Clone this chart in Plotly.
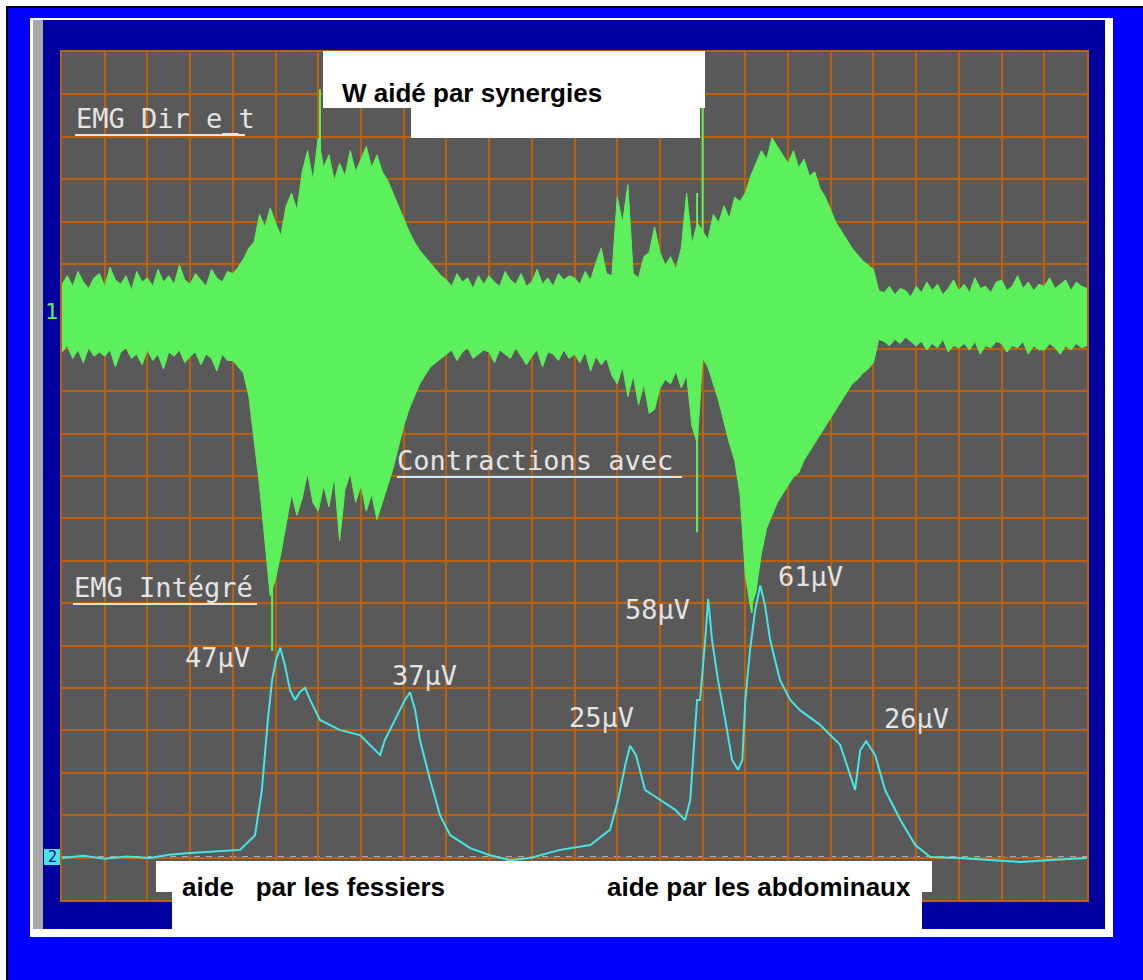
import plotly.graph_objects as go

# ---------------------------------------------------------------
# Time base: 1 division = 1 s, 24 divisions across the screen.
# Channel 1 (raw EMG) is read as an upper / lower envelope,
# sampled every 1/8 division, in divisions from its baseline.
# ---------------------------------------------------------------
emg_hi = [0.75, 0.95, 0.70, 1.05, 0.80, 0.65, 0.90, 1.00,
          0.70, 1.15, 0.85, 0.75, 0.95, 0.60, 1.05, 0.80,
          0.90, 0.70, 1.10, 0.80, 0.95, 0.75, 1.20, 0.85,
          0.75, 1.00, 0.85, 0.70, 1.10, 0.90, 0.80, 1.05,
          1.00, 1.15, 1.35, 1.60, 1.75, 2.40, 2.10, 2.55,
          2.20, 1.90, 2.60, 2.90, 2.50, 3.40, 3.90, 3.20,
          4.20, 3.50, 3.80, 3.20, 3.60, 3.30, 3.90, 3.40,
          3.70, 4.00, 3.50, 3.80, 3.40, 3.20, 2.90, 2.60,
          2.30, 2.00, 1.75, 1.55, 1.40, 1.25, 1.10, 0.95,
          0.85, 0.70, 1.00, 0.80, 0.90, 0.65, 0.95, 0.75,
          0.95, 0.80, 0.70, 1.05, 0.85, 0.75, 1.00, 0.70,
          0.80, 1.10, 0.75, 0.90, 0.70, 1.00, 0.85, 0.95,
          0.90, 0.75, 1.05, 0.85, 1.25, 1.60, 1.00, 0.95,
          2.80, 2.20, 3.10, 1.00, 0.90, 1.40, 1.50, 2.10,
          1.50, 1.20, 1.40, 1.10, 1.60, 2.90, 1.70, 2.20,
          2.00, 1.80, 2.40, 2.20, 2.60, 2.30, 2.80, 2.70,
          2.90, 3.30, 3.60, 3.90, 3.70, 4.20, 4.00, 3.80,
          3.60, 3.90, 3.50, 3.70, 3.30, 3.40, 3.00, 2.80,
          2.50, 2.20, 2.00, 1.80, 1.60, 1.45, 1.30, 1.20,
          1.10, 0.60, 0.55, 0.70, 0.50, 0.65, 0.60, 0.45,
          0.70, 0.55, 0.80, 0.60, 0.75, 0.50, 0.65, 0.85,
          0.60, 0.75, 0.55, 0.90, 0.65, 0.70, 0.55, 0.80,
          0.85, 0.60, 0.70, 0.95, 0.65, 0.80, 0.60, 0.75,
          0.70, 0.90, 0.65, 0.75, 0.85, 0.60, 0.80, 0.70,
          0.65]
emg_lo = [-0.85, -0.70, -1.00, -0.80, -1.10, -0.75, -0.95, -0.85,
          -0.95, -0.80, -1.20, -0.85, -0.75, -1.00, -0.90, -1.15,
          -0.80, -1.05, -0.90, -1.25, -0.85, -0.95, -0.80, -1.10,
          -0.95, -0.85, -1.15, -0.90, -1.00, -1.30, -0.90, -1.05,
          -1.05, -1.20, -1.35, -1.90, -2.90, -4.00, -5.30, -6.60,
          -6.20, -5.60, -4.90, -4.20, -4.70, -4.30, -3.70, -4.40,
          -4.60, -4.00, -4.50, -3.80, -5.30, -4.10, -3.70, -4.40,
          -4.00, -4.60, -4.20, -4.80, -4.40, -4.00, -3.60, -3.10,
          -2.60, -2.20, -1.90, -1.60, -1.40, -1.20, -1.10, -1.00,
          -0.90, -0.80, -1.05, -0.85, -0.75, -1.00, -0.90, -0.80,
          -0.85, -1.10, -0.80, -0.90, -1.00, -0.75, -0.95, -1.15,
          -0.95, -0.80, -1.20, -0.85, -0.90, -1.05, -0.80, -1.00,
          -0.90, -1.10, -0.85, -1.30, -0.95, -1.15, -1.00, -1.40,
          -1.60, -1.20, -1.90, -1.40, -2.10, -1.60, -2.30, -2.20,
          -1.70, -1.50, -1.60, -1.30, -1.70, -1.40, -2.60, -3.00,
          -1.00, -1.20, -1.60, -2.00, -2.50, -3.00, -3.40, -4.20,
          -6.10, -6.90, -6.50, -5.60, -5.00, -4.70, -4.40, -4.20,
          -4.00, -3.80, -3.70, -3.40, -3.20, -3.00, -2.80, -2.60,
          -2.40, -2.20, -2.00, -1.80, -1.60, -1.50, -1.35, -1.25,
          -1.10, -0.55, -0.60, -0.70, -0.55, -0.65, -0.50, -0.60,
          -0.70, -0.60, -0.80, -0.65, -0.75, -0.55, -0.85, -0.70,
          -0.75, -0.65, -0.80, -0.60, -0.90, -0.70, -0.75, -0.60,
          -0.65, -0.85, -0.70, -0.75, -0.60, -0.90, -0.70, -0.80,
          -0.80, -0.65, -0.75, -0.90, -0.70, -0.80, -0.65, -0.75,
          -0.70]
emg_t = [i / 8 for i in range(len(emg_hi))]   # sample instants

# isolated spikes of channel 1 (time, top, bottom)
spike_t = [4.92, 6.04, 14.87, 15.00, 16.15]
spike_hi = [2.0, 5.35, 2.9, 6.15, 3.0]
spike_lo = [-7.9, -3.5, -5.1, -1.0, -7.0]

# ---------------------------------------------------------------
# Channel 2 (integrated EMG), microvolts
# ---------------------------------------------------------------
int_t = [0.00, 0.50, 1.00, 1.50, 2.06, 2.50, 3.00, 3.50, 4.00, 4.17, 4.52, 4.68, 4.82,
         4.92, 5.01, 5.11, 5.22, 5.34, 5.46, 5.57, 5.69, 5.81, 6.04, 6.51, 6.98, 7.21,
         7.45, 7.56, 7.80, 8.03, 8.15, 8.27, 8.38, 8.62, 8.85, 9.09, 9.56, 10.02, 10.49,
         10.96, 11.66, 12.37, 12.83, 13.02, 13.19, 13.30, 13.44, 13.65, 14.01, 14.36,
         14.59, 14.71, 14.87, 14.94, 15.06, 15.13, 15.22, 15.36, 15.53, 15.69, 15.83,
         15.93, 16.00, 16.11, 16.23, 16.35, 16.46, 16.58, 16.81, 17.05, 17.28, 17.75,
         18.22, 18.45, 18.57, 18.69, 18.83, 19.04, 19.27, 19.63, 19.98, 20.33, 21.03,
         21.73, 22.44, 23.14, 24.00]
int_uv = [-0.2, 0.3, -0.4, 0.1, -0.2, 0.5, 0.9, 1.2, 1.4, 1.6, 4.9, 15.1, 30.8,
          39.8, 44.3, 47.0, 43.1, 37.5, 35.3, 37.1, 38.0, 35.3, 30.8, 28.5, 27.4, 25.2,
          22.9, 26.3, 30.8, 35.3, 37.0, 33.0, 26.3, 17.3, 9.4, 4.9, 2.0, 0.4, -0.7,
          -0.2, 1.6, 2.7, 6.1, 12.8, 20.7, 25.0, 22.9, 15.1, 12.8, 10.6,
          8.3, 12.8, 35.3, 35.3, 48.8, 58.0, 48.8, 39.8, 30.8, 21.8, 19.6,
          21.8, 35.3, 46.5, 55.5, 61.0, 56.6, 48.8, 39.8, 35.3, 33.0, 29.7,
          25.2, 18.4, 15.1, 24.0, 26.0, 22.9, 15.1, 8.3, 2.7, 0.0, -0.2,
          -0.7, -1.1, -0.7, -0.2]

peak_labels = ["47\u00b5V", "37\u00b5V", "25\u00b5V", "58\u00b5V", "61\u00b5V", "26\u00b5V"]

# ---------------------------------------------------------------
# Screen geometry (pixels of the 1143 x 980 page)
# ---------------------------------------------------------------
W, H = 1143, 980
L, R, T, B = 62, 1087, 52, 900          # plot area edges
PW, PH = R - L, B - T
DIV_PX = PH / 20                         # 20 vertical divisions
CH1_BASE = 316                           # pixel row of channel-1 baseline
CH2_BASE = 857                           # pixel row of channel-2 baseline
UV_PX = 4.45                             # pixels per microvolt on channel 2


def X(px):
    return (px - L) / PW


def Y(py):
    return (B - py) / PH


GREEN = "#5cf05c"
CYAN = "#45e6e6"
GRID = "#bc600c"
SCREEN = "#595959"
NAVY = "#0000a0"
BLUE = "#0000ff"
LABEL = "#e4e4e4"

fig = go.Figure()

# raw EMG band
fig.add_trace(go.Scatter(x=emg_t, y=emg_lo, yaxis="y", mode="lines",
                         line=dict(color=GREEN, width=1), hoverinfo="skip", showlegend=False))
fig.add_trace(go.Scatter(x=emg_t, y=emg_hi, yaxis="y", mode="lines", fill="tonexty",
                         fillcolor=GREEN, line=dict(color=GREEN, width=1),
                         hoverinfo="skip", showlegend=False))
sx, sy = [], []
for t, hi, lo in zip(spike_t, spike_hi, spike_lo):
    sx += [t, t, None]
    sy += [lo, hi, None]
fig.add_trace(go.Scatter(x=sx, y=sy, yaxis="y", mode="lines",
                         line=dict(color=GREEN, width=2), hoverinfo="skip", showlegend=False))

# integrated EMG
fig.add_trace(go.Scatter(x=int_t, y=int_uv, yaxis="y2", mode="lines",
                         line=dict(color=CYAN, width=2), hoverinfo="skip", showlegend=False))

axis_common = dict(showgrid=True, gridcolor=GRID, gridwidth=2, zeroline=False,
                   showticklabels=False, ticks="", showline=True, linecolor=GRID,
                   linewidth=2, mirror=True, fixedrange=True, dtick=1)

ch1_top = (CH1_BASE - T) / DIV_PX
ch1_bot = -(B - CH1_BASE) / DIV_PX

shapes = [
    # page background and screenshot frame
    dict(type="rect", xref="paper", yref="paper", x0=X(7), x1=X(1150), y0=Y(7), y1=Y(990),
         fillcolor=BLUE, line=dict(color="black", width=2), layer="below"),
    dict(type="rect", xref="paper", yref="paper", x0=X(30), x1=X(1113), y0=Y(18), y1=Y(937),
         fillcolor="white", line=dict(width=0), layer="below"),
    dict(type="rect", xref="paper", yref="paper", x0=X(33), x1=X(43), y0=Y(20), y1=Y(929),
         fillcolor="#a9a9a9", line=dict(width=0), layer="below"),
    dict(type="rect", xref="paper", yref="paper", x0=X(43), x1=X(1105), y0=Y(20), y1=Y(929),
         fillcolor=NAVY, line=dict(width=0), layer="below"),
    dict(type="rect", xref="paper", yref="paper", x0=X(L), x1=X(R), y0=Y(T), y1=Y(B),
         fillcolor=SCREEN, line=dict(width=0), layer="below"),
    # channel baselines
    dict(type="line", xref="paper", yref="y", x0=0, x1=1, y0=0, y1=0,
         line=dict(color="#a8a8a8", width=2, dash="6px,6px"), layer="between"),
    dict(type="line", xref="paper", yref="y2", x0=0, x1=1, y0=0, y1=0,
         line=dict(color="#a8a8a8", width=2, dash="6px,6px"), layer="between"),
    # underlines of the screen labels
    dict(type="line", xref="paper", yref="paper", x0=X(75), x1=X(245), y0=Y(135), y1=Y(135),
         line=dict(color=LABEL, width=2), layer="above"),
    dict(type="line", xref="paper", yref="paper", x0=X(397), x1=X(682), y0=Y(477), y1=Y(477),
         line=dict(color=LABEL, width=2), layer="above"),
    dict(type="line", xref="paper", yref="paper", x0=X(73), x1=X(257), y0=Y(604), y1=Y(604),
         line=dict(color=LABEL, width=2), layer="above"),
    # white caption boxes
    dict(type="rect", xref="paper", yref="paper", x0=X(323), x1=X(705), y0=Y(51), y1=Y(108),
         fillcolor="white", line=dict(width=0), layer="above"),
    dict(type="rect", xref="paper", yref="paper", x0=X(411), x1=X(700), y0=Y(107), y1=Y(138),
         fillcolor="white", line=dict(width=0), layer="above"),
    dict(type="rect", xref="paper", yref="paper", x0=X(156), x1=X(932), y0=Y(861), y1=Y(892),
         fillcolor="white", line=dict(width=0), layer="above"),
    dict(type="rect", xref="paper", yref="paper", x0=X(172), x1=X(922), y0=Y(891), y1=Y(937),
         fillcolor="white", line=dict(width=0), layer="above"),
    # channel-2 marker block
    dict(type="rect", xref="paper", yref="paper", x0=X(44), x1=X(60), y0=Y(849), y1=Y(865),
         fillcolor=CYAN, line=dict(width=0), layer="above"),
]

mono = dict(family="DejaVu Sans Mono", size=27, color=LABEL)
caption = dict(family="Liberation Sans, Arial", size=26, color="black", weight="bold")


def note(text, px, py, font, xanchor="left"):
    return dict(text=text, x=X(px), y=Y(py), xref="paper", yref="paper",
                xanchor=xanchor, yanchor="middle", showarrow=False, font=font)


label_pos = [(183, 657), (390, 675), (567, 717), (623, 609), (776, 576), (882, 718)]

annotations = [
    note("EMG Dir e_t", 74, 119, mono),
    note("Contractions avec", 395, 461, mono),
    note("EMG Int\u00e9gr\u00e9", 72, 587, mono),
    note("W aid\u00e9 par synergies", 340, 93, caption),
    note("aide   par les fessiers", 180, 887, caption),
    note("aide par les abdominaux", 605, 887, caption),
    note("1", 43, 311, dict(family="DejaVu Sans Mono", size=22, color=GREEN)),
    dict(text="2", x=X(52), y=Y(857), xref="paper", yref="paper", xanchor="center",
         yanchor="middle", showarrow=False,
         font=dict(family="DejaVu Sans Mono", size=15, color=NAVY)),
]
for txt, (px, py) in zip(peak_labels, label_pos):
    annotations.append(note(txt, px, py, mono))

fig.update_layout(
    width=W, height=H,
    margin=dict(l=L, r=W - R, t=T, b=H - B, pad=0),
    paper_bgcolor="white", plot_bgcolor="rgba(0,0,0,0)",
    xaxis=dict(range=[0, 24], tick0=0, **axis_common),
    yaxis=dict(range=[ch1_bot, ch1_top], tick0=ch1_top, **axis_common),
    yaxis2=dict(overlaying="y", range=[-(B - CH2_BASE) / UV_PX, (CH2_BASE - T) / UV_PX],
                visible=False, fixedrange=True, showgrid=False),
    shapes=shapes, annotations=annotations, showlegend=False,
)

fig.write_html("out.html", config=dict(displayModeBar=False))
